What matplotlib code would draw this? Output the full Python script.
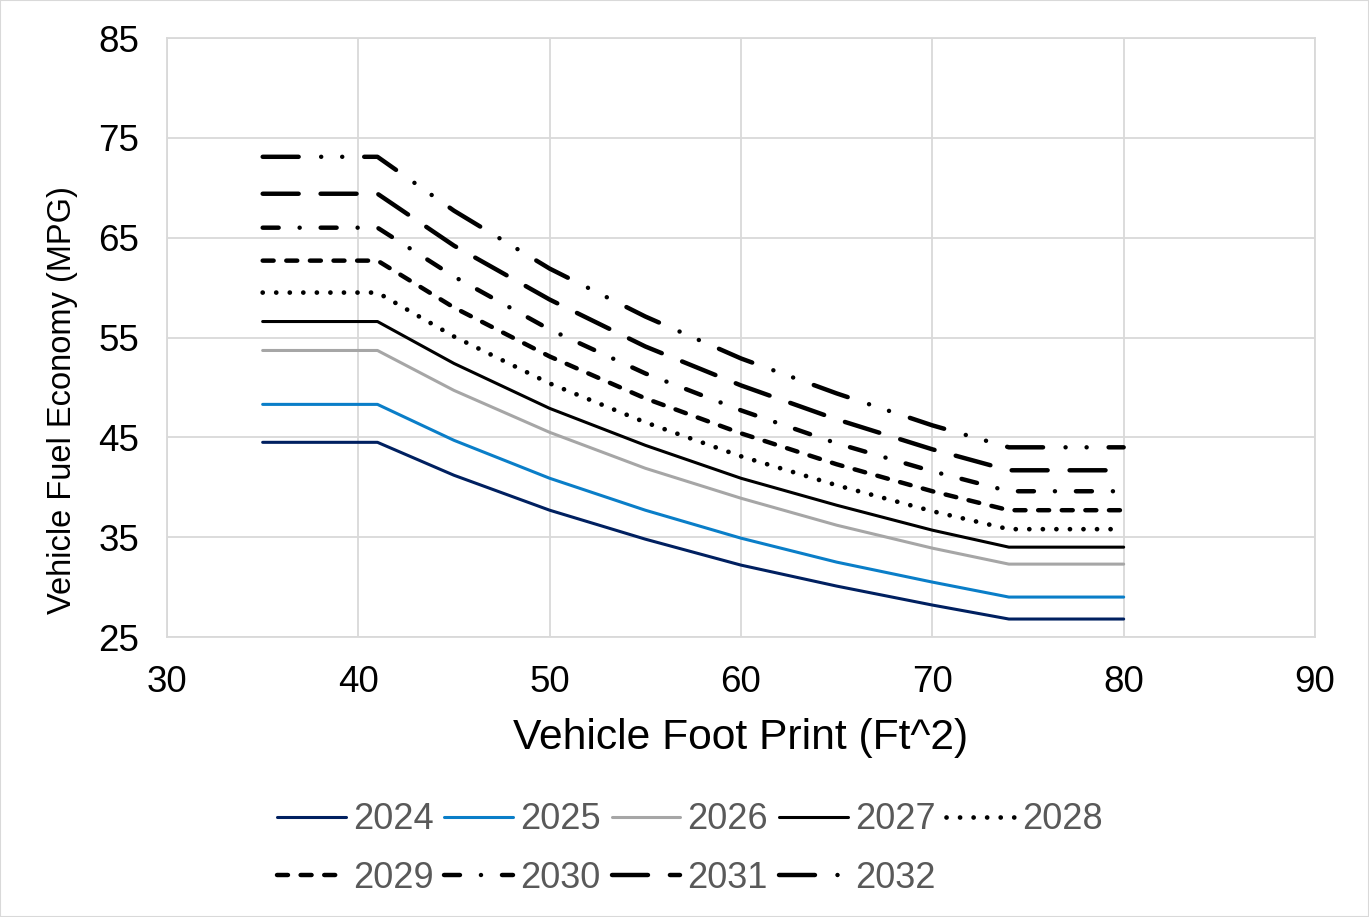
import matplotlib
matplotlib.use("Agg")
import matplotlib.pyplot as plt
from matplotlib.patches import Rectangle

plt.rcParams['font.family'] = ['Liberation Sans', 'DejaVu Sans']
plt.rcParams['lines.scale_dashes'] = False

# footprint points (ft^2) and read-off fuel economy targets (mpg)
footprint = [35, 41, 45, 50, 55, 60, 65, 70, 74, 80]
mpg_2024 = [44.5, 44.5, 41.2, 37.7, 34.8, 32.2, 30.1, 28.2, 26.8, 26.8]
mpg_2025 = [48.3, 48.3, 44.7, 40.9, 37.7, 34.9, 32.5, 30.5, 29.0, 29.0]
mpg_2026 = [53.7, 53.7, 49.7, 45.5, 41.9, 38.9, 36.2, 33.9, 32.3, 32.3]
mpg_2027 = [56.6, 56.6, 52.4, 47.9, 44.2, 40.9, 38.2, 35.7, 34.0, 34.0]
mpg_2028 = [59.5, 59.5, 55.1, 50.4, 46.5, 43.1, 40.2, 37.6, 35.8, 35.8]
mpg_2029 = [62.7, 62.7, 58.0, 53.1, 48.9, 45.4, 42.3, 39.6, 37.7, 37.7]
mpg_2030 = [66.0, 66.0, 61.1, 55.8, 51.4, 47.7, 44.4, 41.6, 39.6, 39.6]
mpg_2031 = [69.4, 69.4, 64.2, 58.8, 54.1, 50.2, 46.8, 43.8, 41.7, 41.7]
mpg_2032 = [73.1, 73.1, 67.7, 61.9, 57.1, 52.9, 49.4, 46.2, 44.0, 44.0]

years = ['2024', '2025', '2026', '2027', '2028', '2029', '2030', '2031', '2032']
series = [mpg_2024, mpg_2025, mpg_2026, mpg_2027, mpg_2028,
          mpg_2029, mpg_2030, mpg_2031, mpg_2032]

# (color, linewidth, dash pattern in points or None for solid)
styles = [
    ('#002060', 2.2, None),
    ('#0A7EC8', 2.2, None),
    ('#A6A6A6', 2.2, None),
    ('#000000', 2.2, None),
    ('#000000', 3.4, (0, (0.05, 9.7))),
    ('#000000', 3.2, (0, (7.9, 9.1))),
    ('#000000', 3.2, (0, (11.5, 15.1, 0.05, 15.1))),
    ('#000000', 3.2, (0, (25.9, 15.8))),
    ('#000000', 3.2, (0, (25.9, 16.2, 0.05, 15.1, 0.05, 15.8))),
]

fig = plt.figure(figsize=(13.69, 9.17), dpi=100)
ax = fig.add_axes([167/1369, 1 - 637/917, (1315 - 167)/1369, (637 - 38)/917])

handles = []
for yr, vals, (col, lw, dash) in zip(years, series, styles):
    kw = dict(color=col, lw=lw, solid_capstyle='round', dash_capstyle='round',
              solid_joinstyle='round')
    if dash is not None:
        kw['linestyle'] = dash
    h, = ax.plot(footprint, vals, label=yr, **kw)
    handles.append(h)

ax.set_xlim(30, 90)
ax.set_ylim(25, 85)
ax.set_xticks(range(30, 91, 10))
ax.set_yticks(range(25, 86, 10))
ax.grid(True, color='#D9D9D9', lw=1.3)
ax.set_axisbelow(True)
for sp in ax.spines.values():
    sp.set_color('#D9D9D9')
    sp.set_linewidth(1.3)
ax.tick_params(length=0, labelsize=26.5, colors='black', pad=20)

ax.set_xlabel('Vehicle Foot Print (Ft^2)', fontsize=30.7, labelpad=13)
ax.set_ylabel('Vehicle Fuel Economy (MPG)', fontsize=23.5)
ax.yaxis.set_label_coords(-89/1148, (637 - 400)/599)

# legend: two rows, row-major order
order = [0, 5, 1, 6, 2, 7, 3, 8, 4]
leg = fig.legend([handles[i] for i in order], [years[i] for i in order],
                 ncol=5, loc='center', bbox_to_anchor=(690/1369, 1 - 849/917),
                 frameon=False, fontsize=26, handlelength=1.9, handletextpad=0.2,
                 columnspacing=0.3, labelspacing=0.65)
for t in leg.get_texts():
    t.set_color('#595959')

fig.patches.append(Rectangle((0, 0), 1, 1, transform=fig.transFigure, fill=False,
                             edgecolor='#D9D9D9', lw=1.5))

fig.savefig('out.png', dpi=100)
